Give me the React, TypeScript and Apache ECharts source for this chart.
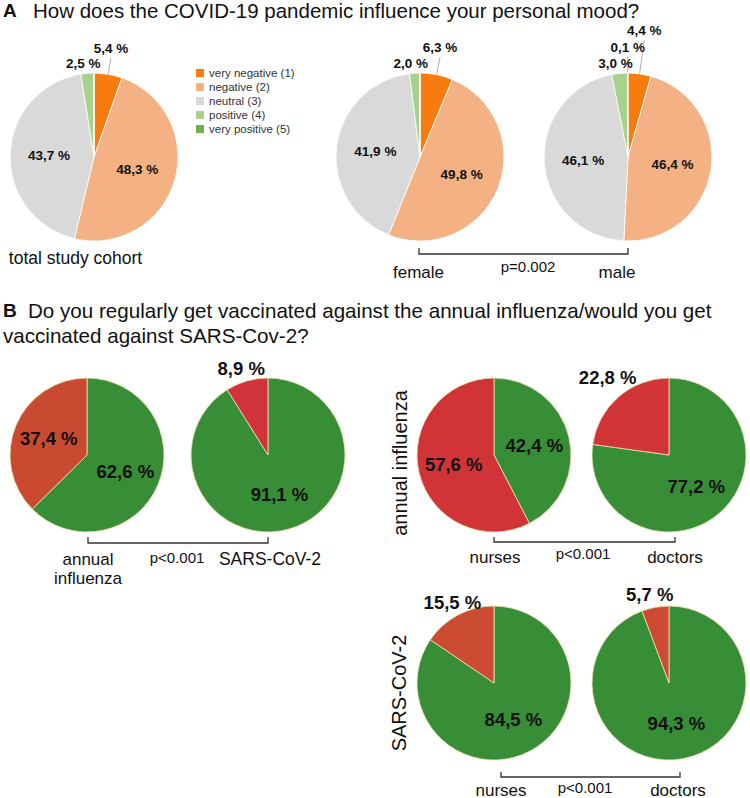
import React, { useEffect, useRef } from "react";
import * as echarts from "echarts";

// ---------------- data ----------------
const moodCategories = ["very negative (1)", "negative (2)", "neutral (3)", "positive (4)", "very positive (5)"];
const moodTotalCohort = [5.4, 48.3, 43.7, 2.5, 0];
const moodFemale = [6.3, 49.8, 41.9, 2.0, 0];
const moodMale = [4.4, 46.4, 46.1, 3.0, 0.1];

const vaccCategories = ["vaccinated", "not vaccinated"];
const fluTotal = [62.6, 37.4];
const sarsTotal = [91.1, 8.9];
const fluNurses = [42.4, 57.6];
const fluDoctors = [77.2, 22.8];
const sarsNurses = [84.5, 15.5];
const sarsDoctors = [94.3, 5.7];

const titleA = "How does the COVID-19 pandemic influence your personal mood?";
const titleB1 = "Do you regularly get vaccinated against the annual influenza/would you get";
const titleB2 = "vaccinated against SARS-Cov-2?";
const pValues = ["p=0.002", "p<0.001", "p<0.001", "p<0.001"];

// ---------------- styles ----------------
const FONT = "'Liberation Sans', Arial, Helvetica, sans-serif";
const moodColors = ["#F77B0E", "#F4B183", "#D9D9D9", "#A9D18E", "#70AD47"];
const GREEN = "#388E37";
const OUTSIDE = 30;

type PieSpec = {
  names: string[];
  values: number[];
  colors: string[];
  center: [number, number];
  r: number;
  fs: number;
  lead: number[];
  lineShow: boolean[];
  border: string;
  borderWidth: number;
};

const fmt = (v: number) => v.toFixed(1).replace(".", ",") + " %";

function buildPie(s: PieSpec) {
  const total = s.values.reduce((a, b) => a + b, 0);
  return {
    type: "pie",
    center: s.center,
    radius: s.r,
    startAngle: 90,
    clockwise: true,
    avoidLabelOverlap: false,
    silent: true,
    emphasis: { disabled: true, scale: false },
    itemStyle: { borderColor: s.border, borderWidth: s.borderWidth },
    label: {
      show: true,
      position: "inside",
      formatter: (p: any) => fmt(p.value),
      fontFamily: FONT,
      fontWeight: "bold",
      fontSize: s.fs,
      color: "#111",
    },
    labelLine: { show: false, length: 0, length2: 0, lineStyle: { color: "#9a9a9a", width: 0.8 } },
    data: s.values.map((v, i) => ({
      name: s.names[i],
      value: v,
      itemStyle: { color: s.colors[i] },
      label: v <= 0 ? { show: false } : v < OUTSIDE ? { position: "outside" } : { position: "inside" },
      labelLine: { show: v > 0 && v < OUTSIDE && s.lineShow[i], length: s.lead[i], length2: 0 },
    })),
    labelLayout: (p: any) => {
      const i = p.dataIndex;
      const v = s.values[i];
      if (!(v > 0 && v < OUTSIDE)) return {};
      const before = s.values.slice(0, i).reduce((a, b) => a + b, 0);
      const ang = ((before + v / 2) / total) * Math.PI * 2;
      const nx = Math.sin(ang);
      const ny = -Math.cos(ang);
      const x0 = s.center[0] + nx * s.r;
      const y0 = s.center[1] + ny * s.r;
      const ex = s.center[0] + nx * (s.r + s.lead[i]);
      const ey = s.center[1] + ny * (s.r + s.lead[i]);
      return {
        x: ex + (nx < -0.02 ? -0.3 * s.fs : 0),
        y: ey - 0.7 * s.fs,
        align: "center",
        verticalAlign: "middle",
        labelLinePoints: [
          [x0, y0],
          [ex, ey],
          [ex, ey],
        ],
      };
    },
  };
}

const moodPie = (values: number[], center: [number, number], lead: number[], lineShow: boolean[]) =>
  buildPie({
    names: moodCategories,
    values,
    colors: moodColors,
    center,
    r: 84,
    fs: 13.5,
    lead,
    lineShow,
    border: "#ffffff",
    borderWidth: 0.8,
  });

const vaccPie = (values: number[], red: string, center: [number, number], lead: number[]) =>
  buildPie({
    names: vaccCategories,
    values,
    colors: [GREEN, red],
    center,
    r: 77,
    fs: 18.5,
    lead,
    lineShow: [false, false],
    border: "#EFE3B4",
    borderWidth: 0.8,
  });

const txt = (
  text: string,
  x: number,
  y: number,
  size: number,
  opts: { bold?: boolean; align?: string; rot?: number; color?: string } = {}
) => ({
  type: "text",
  x,
  y,
  rotation: opts.rot || 0,
  silent: true,
  style: {
    text,
    x: 0,
    y: 0,
    fontFamily: FONT,
    fontSize: size,
    fontWeight: opts.bold ? "bold" : "normal",
    fill: opts.color || "#111",
    align: opts.align || "center",
    textAlign: opts.align || "center",
    verticalAlign: "middle",
    textVerticalAlign: "middle",
  },
});

const bracket = (x1: number, x2: number, y: number, tick: number) => ({
  type: "polyline",
  silent: true,
  shape: {
    points: [
      [x1, y - tick],
      [x1, y],
      [x2, y],
      [x2, y - tick],
    ],
  },
  style: { stroke: "#333", lineWidth: 1.3, fill: null },
});

const option: any = {
  animation: false,
  backgroundColor: "#ffffff",
  legend: {
    data: moodCategories,
    orient: "vertical",
    left: 191,
    top: 62,
    itemWidth: 8,
    itemHeight: 8,
    itemGap: 2,
    icon: "rect",
    selectedMode: false,
    itemStyle: { borderWidth: 0 },
    textStyle: { fontFamily: FONT, fontSize: 11.5, color: "#333" },
  },
  series: [
    moodPie(moodTotalCohort, [94, 157], [16, 0, 0, 0, 0], [true, false, false, false, false]),
    moodPie(moodFemale, [420, 157], [18, 0, 0, 0, 0], [true, false, false, false, false]),
    moodPie(moodMale, [628, 157], [34, 0, 0, 0, 16], [true, false, false, false, true]),
    vaccPie(fluTotal, "#C94A30", [87, 455], [0, 0]),
    vaccPie(sarsTotal, "#D0343A", [268, 455], [0, 0]),
    vaccPie(fluNurses, "#D13436", [494, 455], [0, 0]),
    vaccPie(fluDoctors, "#D13436", [669, 455], [0, 8]),
    vaccPie(sarsNurses, "#CB4B33", [494, 683], [0, 0]),
    vaccPie(sarsDoctors, "#CB4B33", [669, 683], [0, 0]),
  ],
  graphic: [
    txt("A", 3, 10, 19, { bold: true, align: "left" }),
    txt(titleA, 33, 10, 20.5, { align: "left" }),
    txt("total study cohort", 75.5, 258, 17.5),
    bracket(419, 628, 254, 6),
    txt("female", 418.5, 272, 17),
    txt(pValues[0], 528, 266, 15),
    txt("male", 617, 272, 17),

    txt("B", 3, 310, 19, { bold: true, align: "left" }),
    txt(titleB1, 28, 310, 20.6, { align: "left" }),
    txt(titleB2, 3, 335, 20.6, { align: "left" }),

    bracket(88, 268, 543, 6),
    txt("annual", 88, 559, 17),
    txt("influenza", 88, 578, 17),
    txt(pValues[1], 177, 557, 15),
    txt("SARS-CoV-2", 270, 559, 17.5),

    txt("annual influenza", 400, 463, 20, { rot: Math.PI / 2 }),
    bracket(494, 675, 542, 5),
    txt("nurses", 495, 557, 17),
    txt(pValues[2], 583, 553, 15),
    txt("doctors", 675, 557, 17),

    txt("SARS-CoV-2", 399, 693, 20, { rot: Math.PI / 2 }),
    bracket(501, 680, 777, 5),
    txt("nurses", 501, 790, 17),
    txt(pValues[3], 585, 787, 15),
    txt("doctors", 678, 790, 17),
  ],
};

export default function App() {
  const ref = useRef<HTMLDivElement>(null);
  useEffect(() => {
    if (!ref.current) return;
    const chart = echarts.init(ref.current, undefined, { renderer: "svg" });
    chart.setOption(option);
    return () => chart.dispose();
  }, []);
  return (
    <div
      ref={ref}
      style={{ position: "absolute", left: 0, top: 0, width: 750, height: 798, background: "#fff" }}
    />
  );
}
